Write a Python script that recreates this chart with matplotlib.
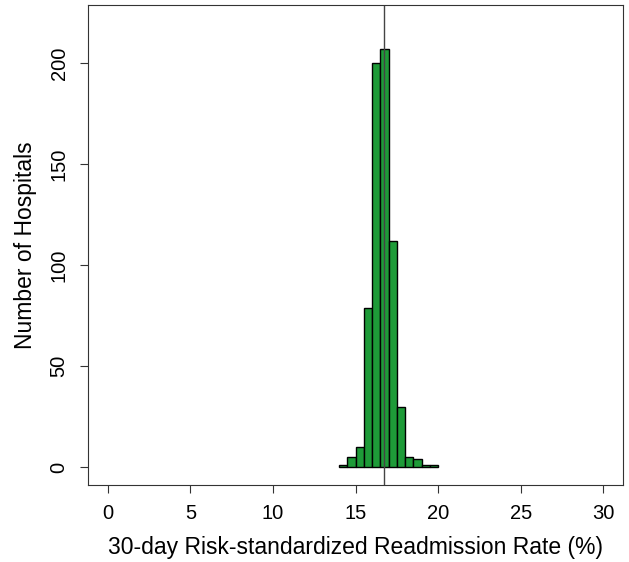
import matplotlib
matplotlib.use("Agg")
from matplotlib import pyplot as plt

plt.rcParams['font.family'] = ['Liberation Sans', 'DejaVu Sans']

# bin left edges (rate %) and hospital counts, bin width 0.5
bin_left = [14.0, 14.5, 15.0, 15.5, 16.0, 16.5, 17.0, 17.5, 18.0, 18.5, 19.0, 19.5]
counts = [1, 5, 10, 79, 200, 207, 112, 30, 5, 4, 1, 1]
bin_width = 0.5
mean_rate = 16.75

x_ticks = [0, 5, 10, 15, 20, 25, 30]
y_ticks = [0, 50, 100, 150, 200]

fig = plt.figure(figsize=(6.29, 5.62), dpi=100)
ax = fig.add_axes([0.14, 0.137, 0.8505, 0.854])

ax.bar(bin_left, counts, width=bin_width, align='edge',
       color='#1E9B38', edgecolor='black', linewidth=1.0)
ax.axvline(mean_rate, color='#444444', linewidth=1.0)

ax.set_xlim(-1.2, 31.2)
ax.set_ylim(-8.8, 228.8)
ax.set_xticks(x_ticks)
ax.set_yticks(y_ticks)
ax.set_yticklabels([str(v) for v in y_ticks], rotation=90, va='center')
ax.tick_params(direction='out', length=6, width=0.8, labelsize=14.5, pad=8,
               colors='#333333', labelcolor='black')

for s in ax.spines.values():
    s.set_linewidth(0.8)
    s.set_color('#333333')

ax.set_xlabel('30-day Risk-standardized Readmission Rate (%)', fontsize=16.5, labelpad=9)
ax.set_ylabel('Number of Hospitals', fontsize=16.5, labelpad=9)

fig.savefig('out.png', dpi=100)
